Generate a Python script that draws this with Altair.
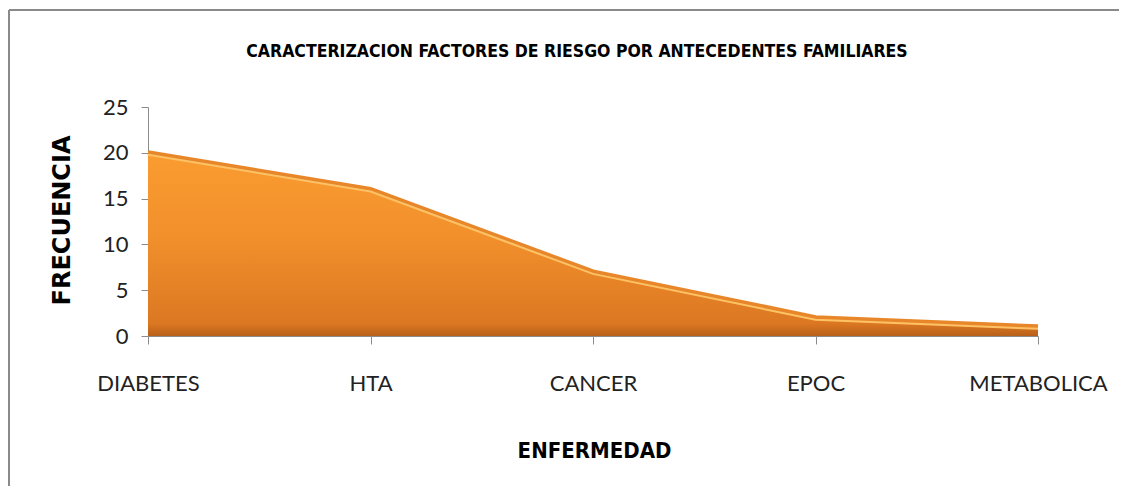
import altair as alt
import pandas as pd

categories = ["DIABETES", "HTA", "CANCER", "EPOC", "METABOLICA"]
frecuencia = [20, 16, 7, 2, 1]
y_ticks = [0, 5, 10, 15, 20, 25]
title_text = "CARACTERIZACION FACTORES DE RIESGO POR ANTECEDENTES FAMILIARES"

df = pd.DataFrame({"ENFERMEDAD": categories, "FRECUENCIA": frecuencia})
one = pd.DataFrame({"k": [0]})

FONT = "Lato"

x_enc = alt.X(
    "ENFERMEDAD:N",
    sort=categories,
    scale=alt.Scale(type="point", padding=0),
    axis=alt.Axis(
        title="ENFERMEDAD",
        titleFont="DejaVu Sans Condensed",
        titleFontSize=22,
        titleFontWeight="bold",
        titleColor="#000000",
        titleX=446,
        titleY=114,
        titleBaseline="middle",
        labelFont=FONT,
        labelFontSize=22,
        labelColor="#222222",
        labelAngle=0,
        labelPadding=29,
        tickSize=8,
        tickColor="#8c8c8c",
        domainColor="#8c8c8c",
        grid=False,
    ),
)
y_enc = alt.Y(
    "FRECUENCIA:Q",
    scale=alt.Scale(domain=[0, 25], nice=False),
    axis=alt.Axis(
        title="FRECUENCIA",
        titleFont="DejaVu Sans",
        titleFontSize=24,
        titleFontWeight="bold",
        titleColor="#000000",
        titleAngle=-90,
        titleX=-86,
        titleY=113,
        titleBaseline="middle",
        values=y_ticks,
        labelFont=FONT,
        labelFontSize=22,
        labelColor="#222222",
        labelPadding=13,
        tickSize=7,
        tickColor="#8c8c8c",
        domainColor="#8c8c8c",
        grid=False,
    ),
)

base = alt.Chart(df)

area = base.mark_area(
    color=alt.Gradient(
        gradient="linear",
        stops=[
            alt.GradientStop(color="#FA9C30", offset=0),
            alt.GradientStop(color="#F2902C", offset=0.45),
            alt.GradientStop(color="#DC7822", offset=0.93),
            alt.GradientStop(color="#B8601A", offset=1),
        ],
        x1=0, x2=0, y1=0, y2=1,
    ),
    opacity=1,
).encode(x=x_enc, y=y_enc)

x_plain = alt.X("ENFERMEDAD:N", sort=categories)
y_plain = alt.Y("FRECUENCIA:Q")

edge = base.mark_line(color="#E8872A", strokeWidth=5).encode(x=x_plain, y=y_plain)
highlight = base.mark_line(color="#FDC265", strokeWidth=2, yOffset=2).encode(
    x=x_plain, y=y_plain
)

frame_top = alt.Chart(one).mark_rule(color="#8a8a8a", strokeWidth=2).encode(
    x=alt.value(-139), x2=alt.value(1000), y=alt.value(-97)
)
frame_left = alt.Chart(one).mark_rule(color="#8a8a8a", strokeWidth=2).encode(
    x=alt.value(-139), y=alt.value(-97), y2=alt.value(400)
)

title = alt.Chart(one).mark_text(
    text=title_text,
    font="DejaVu Sans Condensed",
    fontSize=17.5,
    fontWeight="bold",
    color="#000000",
    align="center",
    baseline="middle",
).encode(x=alt.value(429), y=alt.value(-55))

chart = (
    alt.layer(area, edge, highlight, frame_top, frame_left, title)
    .properties(
        width=890,
        height=229,
        background="white",
        autosize=alt.AutoSizeParams(type="none"),
        padding={"left": 140, "top": 99, "right": 81, "bottom": 150},
    )
    .configure_view(stroke=None, strokeWidth=0)
)

chart.save("out.html", embed_options={"renderer": "svg", "actions": False})
